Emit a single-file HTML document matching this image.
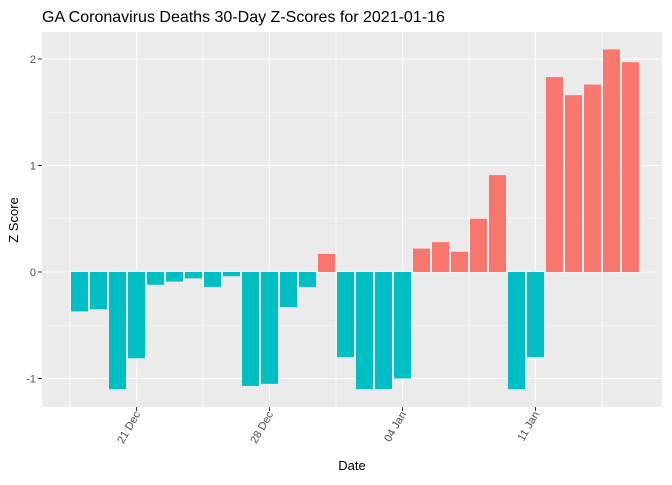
<!DOCTYPE html>
<html><head><meta charset="utf-8"><style>
body{margin:0;background:#fff;font-family:"Liberation Sans",sans-serif;}
</style></head><body>
<svg id="chart" width="672" height="480" xmlns="http://www.w3.org/2000/svg" font-family="Liberation Sans, sans-serif">
<text x="42" y="22" font-size="16" fill="#000">GA Coronavirus Deaths 30-Day Z-Scores for 2021-01-16</text>
<rect x="42" y="32" width="620" height="375" fill="#EBEBEB"/>
<g id="grid"></g><g id="bars"></g><g id="axes"></g>
<text x="352" y="470" font-size="13" text-anchor="middle">Date</text>
<text transform="translate(18,220) rotate(-90)" font-size="13" text-anchor="middle">Z Score</text>
</svg>
<script>
const values=[-0.37,-0.35,-1.1,-0.81,-0.12,-0.09,-0.06,-0.14,-0.04,-1.07,-1.05,-0.33,-0.14,0.17,-0.8,-1.1,-1.1,-1.0,0.22,0.28,0.19,0.5,0.91,-1.1,-0.8,1.83,1.66,1.76,2.09,1.97];
const xTickLabels=["21 Dec","28 Dec","04 Jan","11 Jan"];
const xTickDays=[3,10,17,24];
const yTicks=[-1,0,1,2];
const ns="http://www.w3.org/2000/svg";
const x=d=>79.5+d*19; const y=v=>272-v*106.5;
function mk(tag,attrs,parent){const e=document.createElementNS(ns,tag);for(const k in attrs)e.setAttribute(k,attrs[k]);document.getElementById(parent).appendChild(e);return e;}
// grid
for(let i=0;i<yTicks.length;i++){
 const l=mk('line',{x1:42,x2:662,y1:y(yTicks[i]),y2:y(yTicks[i]),stroke:'#fff','stroke-width':1.1},'grid');
 
 
 if(i<yTicks.length-1){const m=mk('line',{x1:42,x2:662,y1:y(yTicks[i]+0.5),y2:y(yTicks[i]+0.5),stroke:'#fff','stroke-width':0.5},'grid');
 
 }
 const t=mk('text',{x:36,y:y(yTicks[i])+4,'font-size':11,fill:'#4D4D4D','text-anchor':'end'},'axes');
 t.textContent=yTicks[i];
 
 
}
for(let i=0;i<xTickDays.length;i++){
 const xx=x(xTickDays[i]);
 const l=mk('line',{x1:xx,x2:xx,y1:32,y2:407,stroke:'#fff','stroke-width':1.1},'grid');
 
 
 [xx-66.5,xx+66.5].forEach(mx=>{if(mx>42&&mx<662){const m=mk('line',{x1:mx,x2:mx,y1:32,y2:407,stroke:'#fff','stroke-width':0.5},'grid');
 
 }});
 const tk=mk('line',{x1:xx,x2:xx,y1:407,y2:411,stroke:'#333'},'axes');
 
 
 const t=mk('text',{transform:`translate(${xx+4},414) rotate(-60)`,'font-size':11,fill:'#4D4D4D','text-anchor':'end'},'axes');
 t.textContent=xTickLabels[i];
 
 
}
for(let i=0;i<yTicks.length;i++){const tk=mk('line',{x1:38,x2:42,y1:y(yTicks[i]),y2:y(yTicks[i]),stroke:'#333'},'axes');
 
 }
values.forEach((v,i)=>{
 const top=Math.min(y(v),y(0)),h=Math.abs(y(v)-y(0));
 const r=mk('rect',{x:x(i)-8.5,y:top,width:17,height:h,fill:v>0?'#F8766D':'#00BFC4'},'bars');
 
 
});
</script>
</body></html>
